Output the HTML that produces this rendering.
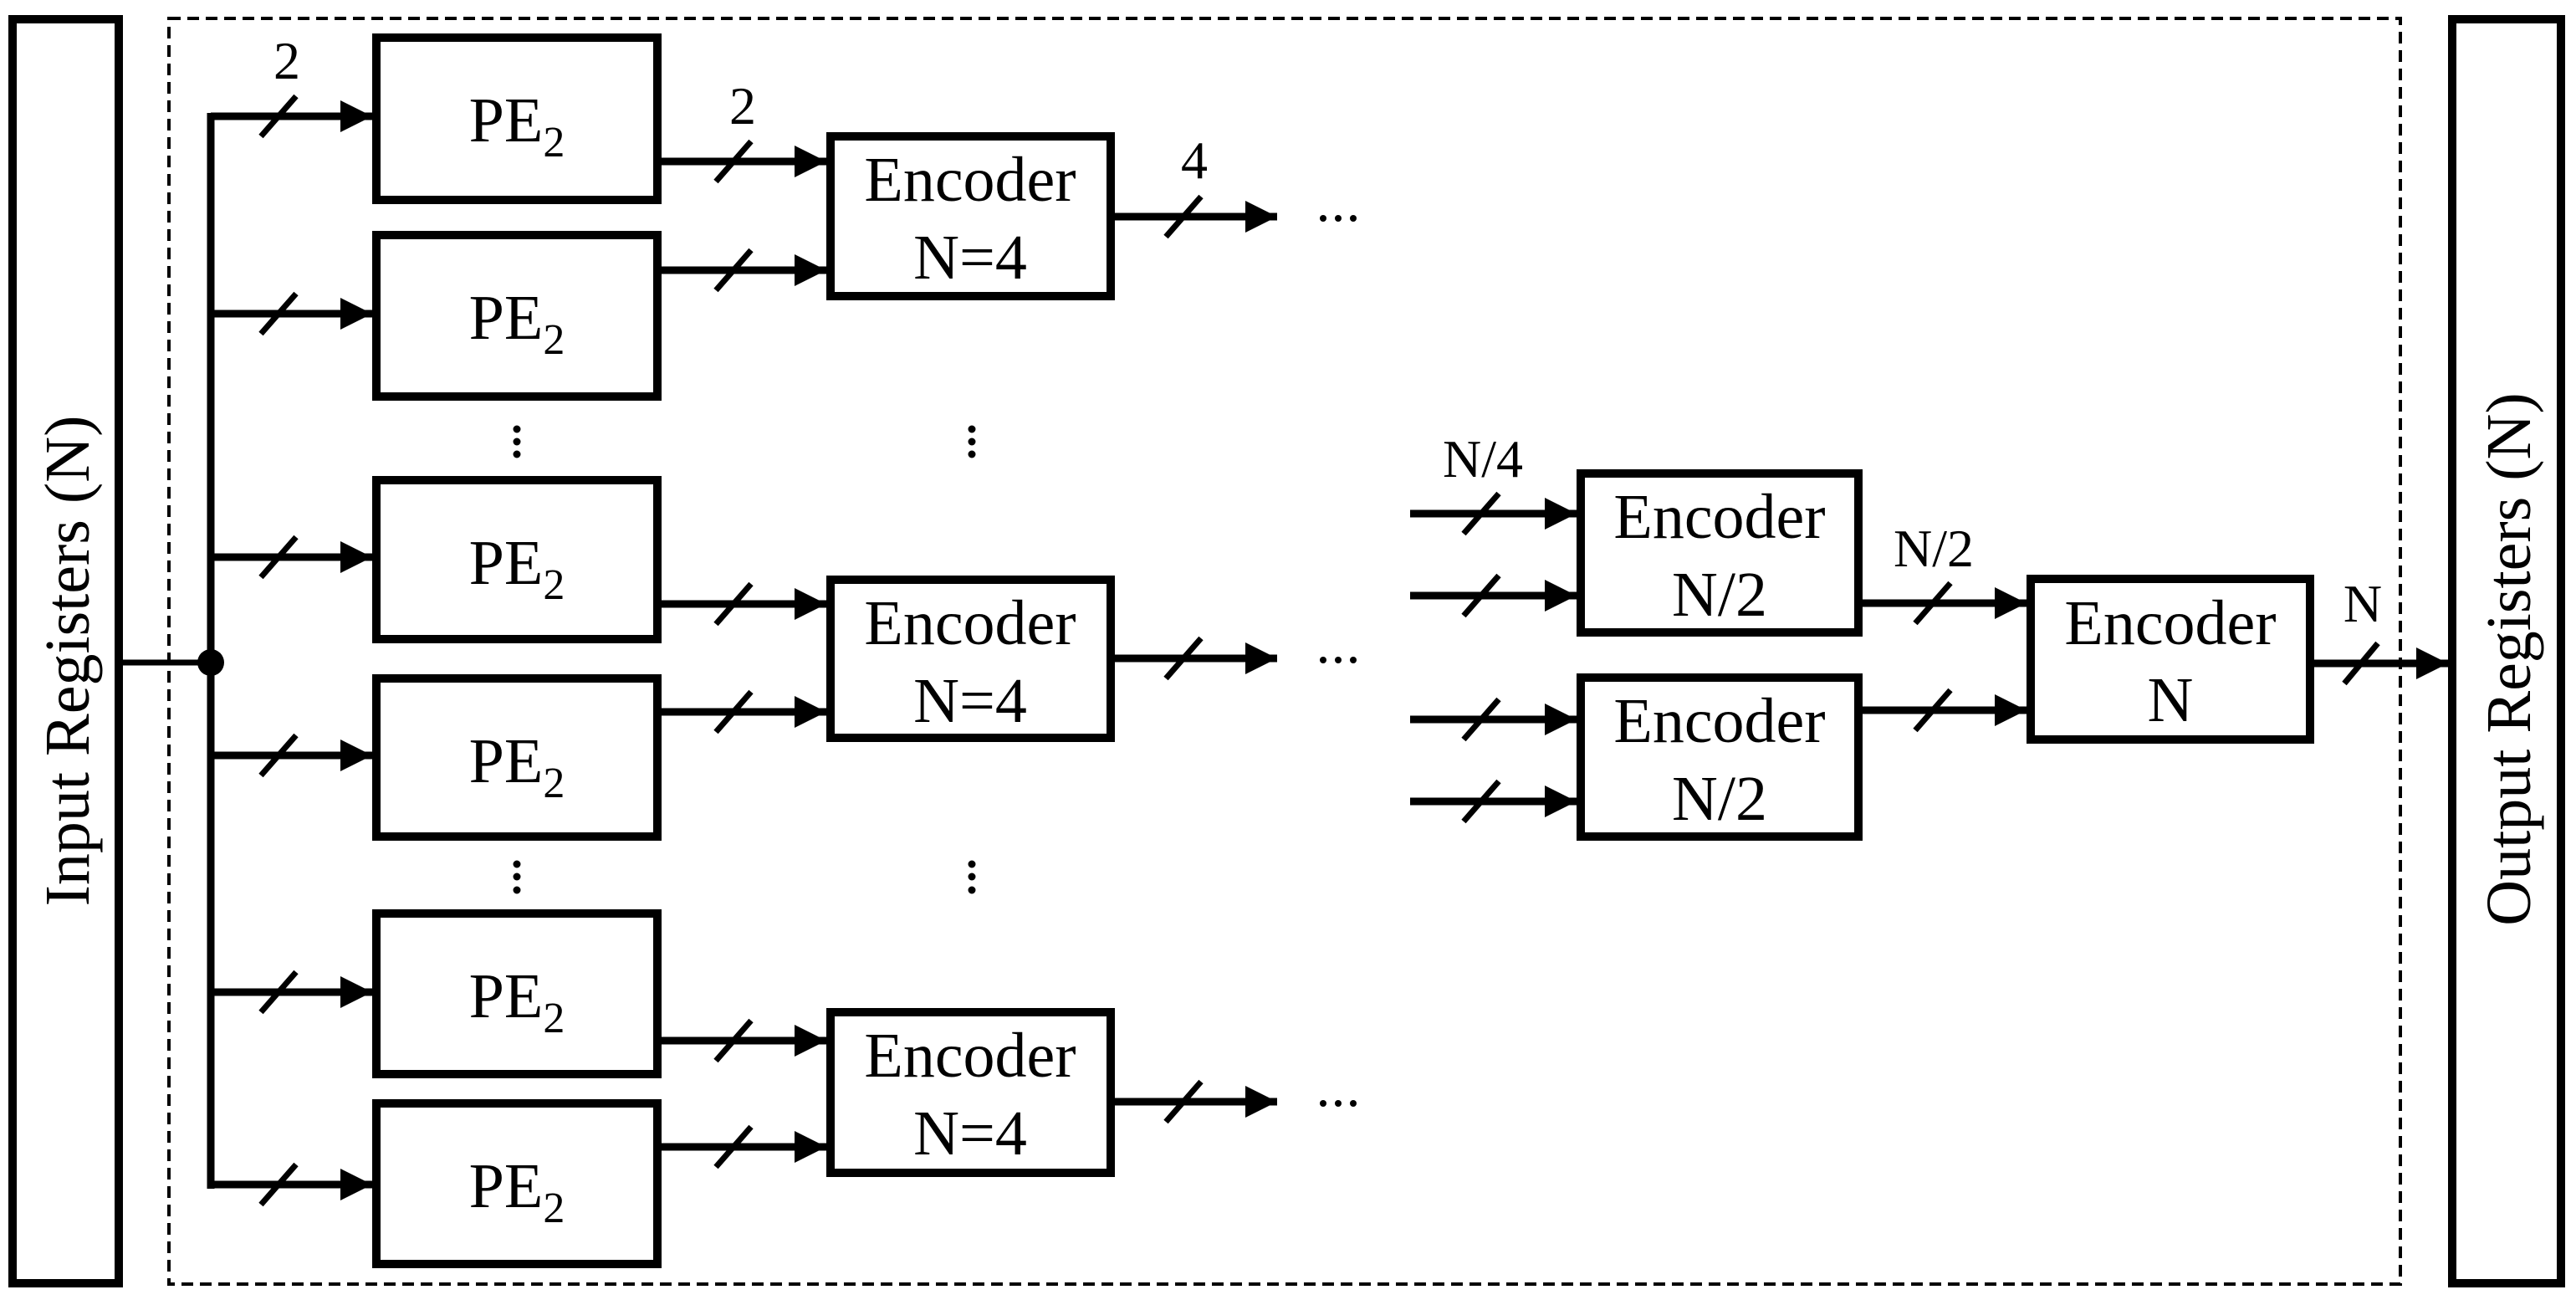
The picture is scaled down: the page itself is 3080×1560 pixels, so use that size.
<!DOCTYPE html>
<html><head><meta charset="utf-8"><style>
html,body{margin:0;padding:0;background:#fff;}
svg{display:block;}
text{font-family:"Liberation Serif",serif;fill:#000;}
</style></head><body>
<svg width="3080" height="1560" viewBox="0 0 3080 1560" xmlns="http://www.w3.org/2000/svg">
<defs>
<marker id="ah" markerUnits="userSpaceOnUse" markerWidth="40" markerHeight="40" refX="38" refY="19" orient="auto">
<path d="M0,0 L38,19 L0,38 Z" fill="#000"/>
</marker>
</defs>
<!-- registers -->
<rect x="15" y="23" width="127" height="1511" fill="none" stroke="#000" stroke-width="10"/>
<rect x="2932" y="23" width="130" height="1511" fill="none" stroke="#000" stroke-width="10"/>
<text transform="translate(106,790) rotate(-90)" text-anchor="middle" font-size="76">Input Registers (N)</text>
<text transform="translate(3025,788) rotate(-90)" text-anchor="middle" font-size="76">Output Registers (N)</text>
<!-- dashed -->
<rect x="202" y="22" width="2668" height="1513" fill="none" stroke="#000" stroke-width="4" stroke-dasharray="14,8"/>
<!-- bus -->
<line x1="252" y1="135" x2="252" y2="1421" stroke="#000" stroke-width="9"/>
<line x1="143" y1="792" x2="252" y2="792" stroke="#000" stroke-width="7"/>
<circle cx="252" cy="792" r="16" fill="#000"/>
<g stroke="#000" stroke-width="10" fill="none">
<rect x="450" y="45" width="336" height="194"/>
<rect x="450" y="281" width="336" height="193"/>
<rect x="450" y="574" width="336" height="190"/>
<rect x="450" y="811" width="336" height="189"/>
<rect x="450" y="1092" width="336" height="192"/>
<rect x="450" y="1319" width="336" height="192"/>
<rect x="993" y="163" width="335" height="191"/>
<rect x="993" y="693" width="335" height="189"/>
<rect x="993" y="1210" width="335" height="192"/>
<rect x="1890" y="566" width="332" height="190"/>
<rect x="1890" y="810" width="332" height="190"/>
<rect x="2428" y="692" width="334" height="192"/>
</g>
<g stroke="#000" stroke-width="9" marker-end="url(#ah)">
<line x1="252" y1="139" x2="445" y2="139"/>
<line x1="252" y1="375" x2="445" y2="375"/>
<line x1="252" y1="666" x2="445" y2="666"/>
<line x1="252" y1="903" x2="445" y2="903"/>
<line x1="252" y1="1186" x2="445" y2="1186"/>
<line x1="252" y1="1416" x2="445" y2="1416"/>
<line x1="791" y1="193" x2="988" y2="193"/>
<line x1="791" y1="323" x2="988" y2="323"/>
<line x1="791" y1="722" x2="988" y2="722"/>
<line x1="791" y1="851" x2="988" y2="851"/>
<line x1="791" y1="1244" x2="988" y2="1244"/>
<line x1="791" y1="1371" x2="988" y2="1371"/>
<line x1="1333" y1="259" x2="1527" y2="259"/>
<line x1="1333" y1="787" x2="1527" y2="787"/>
<line x1="1333" y1="1317" x2="1527" y2="1317"/>
<line x1="1686" y1="614" x2="1885" y2="614"/>
<line x1="1686" y1="712" x2="1885" y2="712"/>
<line x1="1686" y1="860" x2="1885" y2="860"/>
<line x1="1686" y1="958" x2="1885" y2="958"/>
<line x1="2227" y1="721" x2="2423" y2="721"/>
<line x1="2227" y1="849" x2="2423" y2="849"/>
<line x1="2767" y1="793" x2="2927" y2="793"/>
</g>
<g stroke="#000" stroke-width="7">
<path d="M312,163 L354,115 M312,399 L354,351 M312,690 L354,642 M312,927 L354,879 M312,1210 L354,1162 M312,1440 L354,1392"/>
<path d="M856,217 L898,169 M856,347 L898,299 M856,746 L898,698 M856,875 L898,827 M856,1268 L898,1220 M856,1395 L898,1347"/>
<path d="M1394,283 L1436,235 M1394,811 L1436,763 M1394,1341 L1436,1293"/>
<path d="M1750,638 L1792,590 M1750,736 L1792,688 M1750,884 L1792,836 M1750,982 L1792,934"/>
<path d="M2290,745 L2332,697 M2290,873 L2332,825"/>
<path d="M2803,817 L2843,769"/>
</g>
<g fill="#000">
<circle cx="1582" cy="261" r="4"/><circle cx="1600" cy="261" r="4"/><circle cx="1618" cy="261" r="4"/>
<circle cx="1582" cy="789" r="4"/><circle cx="1600" cy="789" r="4"/><circle cx="1618" cy="789" r="4"/>
<circle cx="1582" cy="1319" r="4"/><circle cx="1600" cy="1319" r="4"/><circle cx="1618" cy="1319" r="4"/>
<circle cx="618" cy="513" r="4.5"/><circle cx="618" cy="528" r="4.5"/><circle cx="618" cy="543" r="4.5"/>
<circle cx="1162" cy="513" r="4.5"/><circle cx="1162" cy="528" r="4.5"/><circle cx="1162" cy="543" r="4.5"/>
<circle cx="618" cy="1033" r="4.5"/><circle cx="618" cy="1048" r="4.5"/><circle cx="618" cy="1064" r="4.5"/>
<circle cx="1162" cy="1033" r="4.5"/><circle cx="1162" cy="1048" r="4.5"/><circle cx="1162" cy="1064" r="4.5"/>
</g>
<g font-size="76" text-anchor="middle">
<text x="618" y="169">PE<tspan font-size="52" dy="18">2</tspan></text>
<text x="618" y="405">PE<tspan font-size="52" dy="18">2</tspan></text>
<text x="618" y="698">PE<tspan font-size="52" dy="18">2</tspan></text>
<text x="618" y="935">PE<tspan font-size="52" dy="18">2</tspan></text>
<text x="618" y="1216">PE<tspan font-size="52" dy="18">2</tspan></text>
<text x="618" y="1443">PE<tspan font-size="52" dy="18">2</tspan></text>
<text x="1160" y="240">Encoder</text><text x="1160" y="333">N=4</text>
<text x="1160" y="770">Encoder</text><text x="1160" y="863">N=4</text>
<text x="1160" y="1287">Encoder</text><text x="1160" y="1380">N=4</text>
<text x="2056" y="643">Encoder</text><text x="2056" y="736">N/2</text>
<text x="2056" y="887">Encoder</text><text x="2056" y="980">N/2</text>
<text x="2595" y="770">Encoder</text><text x="2595" y="862">N</text>
</g>
<g font-size="64" text-anchor="middle">
<text x="343" y="94">2</text>
<text x="888" y="148">2</text>
<text x="1428" y="213">4</text>
<text x="1773" y="570">N/4</text>
<text x="2312" y="677">N/2</text>
<text x="2825" y="743">N</text>
</g>
</svg>
</body></html>
